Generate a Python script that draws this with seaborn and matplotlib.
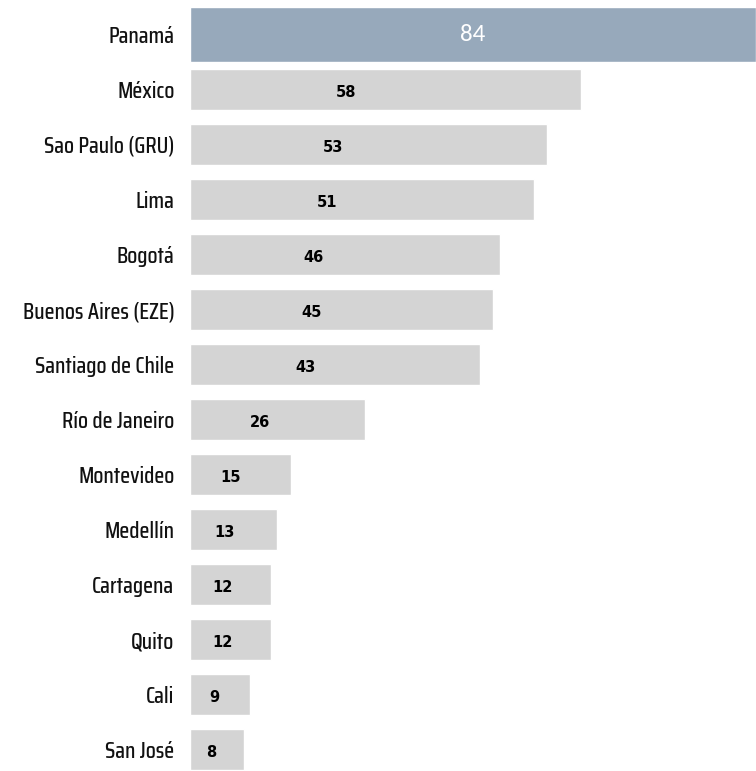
import seaborn as sns
import pandas as pd
import matplotlib.pyplot as plt

cities = ["Panamá", "México", "Sao Paulo (GRU)", "Lima", "Bogotá", "Buenos Aires (EZE)",
          "Santiago de Chile", "Río de Janeiro", "Montevideo", "Medellín", "Cartagena",
          "Quito", "Cali", "San José"]
values = [84, 58, 53, 51, 46, 45, 43, 26, 15, 13, 12, 12, 9, 8]

data = pd.DataFrame({"city": cities, "value": values})
top = data[data["city"] == "Panamá"]
rest = data[data["city"] != "Panamá"]

sns.set_style("white")
fig = plt.figure(figsize=(7.56, 7.71), dpi=100)
ax = fig.add_axes([0.251, 0.0, 0.749, 1.0])

sns.barplot(data=rest, x="value", y="city", order=cities, color="#d4d4d4",
            saturation=1, width=0.73, ax=ax)
sns.barplot(data=top, x="value", y="city", order=cities, color="#97a9bb",
            saturation=1, width=1.0, ax=ax)

ax.set_xlim(0, 84)
ax.set_ylim(13.39, -0.627)
sns.despine(ax=ax, left=True, bottom=True)
ax.set_xticks([])
ax.set_xlabel("")
ax.set_ylabel("")
ax.tick_params(axis="y", length=0, pad=11)
for lab in ax.get_yticklabels():
    lab.set_family(["Saira Condensed", "Archivo Narrow", "DejaVu Sans"])
    lab.set_fontsize(16.5)
    lab.set_fontweight(500)
    lab.set_color("#111111")

for i, (c, v) in enumerate(zip(cities, values)):
    if c == "Panamá":
        ax.text(v / 2, i, str(v), ha="center", va="center", color="white",
                fontsize=18, family=["Carlito", "Open Sans", "DejaVu Sans"])
    else:
        ax.text(v * 0.4, i + 0.05, str(v), ha="center", va="center", color="black",
                fontsize=10.5, fontweight="bold", family="DejaVu Sans")

fig.savefig("out.png", dpi=100)
